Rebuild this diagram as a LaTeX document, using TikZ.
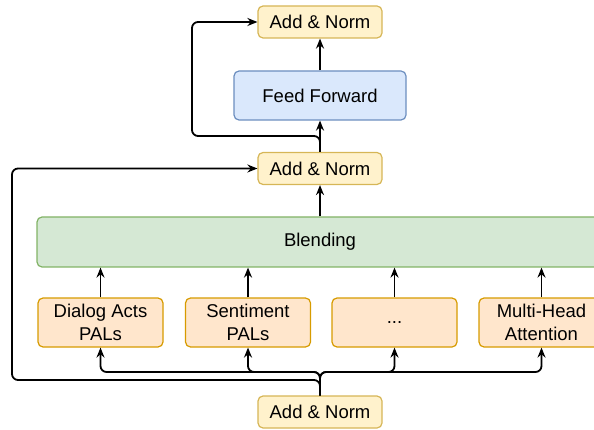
\documentclass[tikz,border=0pt]{standalone}
\usepackage{fontspec}
\setmainfont{Liberation Sans}
\usepackage{xcolor}
\usepackage{tikz}
\usetikzlibrary{arrows.meta}

\definecolor{normfill}{HTML}{FFF2CC}
\definecolor{normdraw}{HTML}{D6B656}
\definecolor{ffnfill}{HTML}{DAE8FC}
\definecolor{ffndraw}{HTML}{6C8EBF}
\definecolor{blendfill}{HTML}{D5E8D4}
\definecolor{blenddraw}{HTML}{82B366}
\definecolor{palfill}{HTML}{FFE6CC}
\definecolor{paldraw}{HTML}{D79B00}

\begin{document}
\begin{tikzpicture}
[every node/.style={inner sep=0pt, rounded corners=5pt, line width=1.2pt, align=center, font=\fontsize{18.5}{23}\selectfont},
 normbox/.style={minimum width=124pt, minimum height=32pt, fill=normfill, draw=normdraw},
 palbox/.style={minimum width=125pt, minimum height=49pt, fill=palfill, draw=paldraw},
 link/.style={line width=1.8pt, -{Stealth[length=10pt, width=8pt]}, rounded corners=6pt}]
\useasboundingbox (0pt, 0pt) rectangle (594pt, -430pt);
\clip (0pt, 0pt) rectangle (594pt, -430pt);
\node (1) [normbox] at (320pt, -22pt) {Add \& Norm};
\node (2) [minimum width=172pt, minimum height=49pt, fill=ffnfill, draw=ffndraw] at (320pt, -95.5pt) {Feed Forward};
\node (3) [normbox] at (320pt, -168.5pt) {Add \& Norm};
\node (4) [minimum width=566pt, minimum height=50pt, fill=blendfill, draw=blenddraw] at (320pt, -242pt) {Blending};
\node (5) [palbox] at (100.5pt, -322.5pt) {Dialog Acts\\PALs};
\node (6) [palbox] at (248pt, -322.5pt) {Sentiment\\PALs};
\node (7) [palbox] at (394.5pt, -322.5pt) {...};
\node (8) [palbox] at (541.5pt, -322.5pt) {Multi-Head\\Attention};
\node (9) [normbox] at (320pt, -412pt) {Add \& Norm};
\draw [link] (2) to (1);
\draw [link] (3) to (2);
\draw [link] (4) to (3);
\draw [link] (5.north) to (5.north |- 4.south);
\draw [link] (6.north) to (6.north |- 4.south);
\draw [link] (7.north) to (7.north |- 4.south);
\draw [link] (8.north) to (8.north |- 4.south);
\draw [link] (9.north) -- (320pt, -372pt) -- (100.5pt, -372pt) -- (5.south);
\draw [link] (9.north) -- (320pt, -372pt) -- (248pt, -372pt) -- (6.south);
\draw [link] (9.north) -- (320pt, -372pt) -- (394.5pt, -372pt) -- (7.south);
\draw [link] (9.north) -- (320pt, -372pt) -- (541.5pt, -372pt) -- (8.south);
\draw [link] (9.north) -- (320pt, -380pt) -- (12pt, -380pt) -- (12pt, -168.5pt) -- (3.west);
\draw [link] (3.north) -- (320pt, -136pt) -- (192pt, -136pt) -- (192pt, -22pt) -- (1.west);
\end{tikzpicture}
\end{document}
